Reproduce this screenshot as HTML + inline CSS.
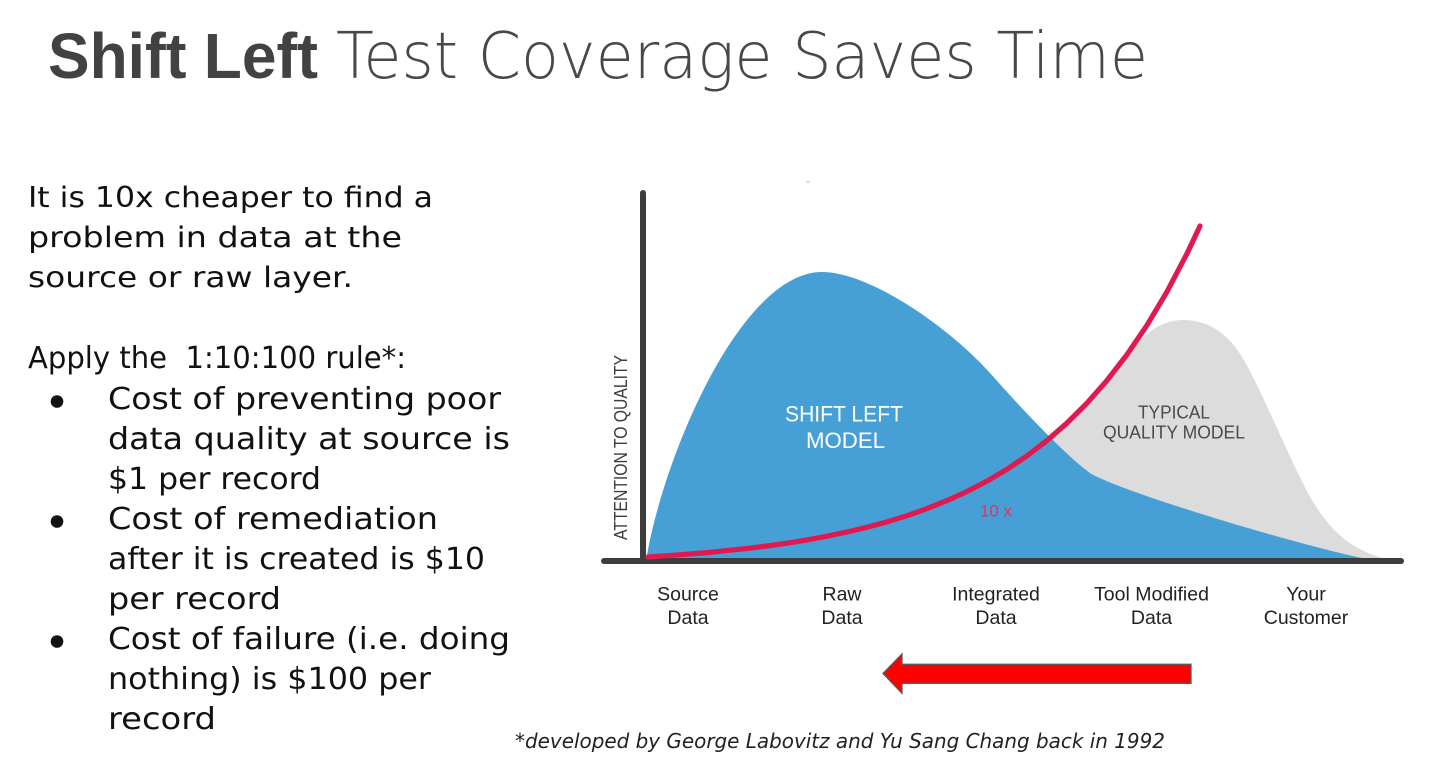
<!DOCTYPE html>
<html>
<head>
<meta charset="utf-8">
<style>
  html, body { margin: 0; padding: 0; background: #ffffff; }
  body { width: 1447px; height: 771px; overflow: hidden; }
  svg { display: block; }
  .poppins { font-family: "DejaVu Sans", "Liberation Sans", sans-serif; }
  .arial { font-family: "Liberation Sans", Arial, sans-serif; }
</style>
</head>
<body>
<svg width="1447" height="771" viewBox="0 0 1447 771" xmlns="http://www.w3.org/2000/svg">
  <rect x="0" y="0" width="1447" height="771" fill="#ffffff"/>

  <!-- Title -->
  <text class="arial" x="48" y="78" font-size="64" font-weight="bold" fill="#404243" textLength="270" lengthAdjust="spacingAndGlyphs">Shift Left</text>
  <text x="336" y="78" font-size="64" fill="#46494b" textLength="812" lengthAdjust="spacingAndGlyphs" style="font-family: 'DejaVu Sans ExtraLight', 'DejaVu Sans', 'Liberation Sans', sans-serif; font-weight: 200;">Test Coverage Saves Time</text>

  <!-- Left text -->
  <g class="poppins" fill="#111111">
    <text x="28" y="207" font-size="28.5" textLength="405" lengthAdjust="spacingAndGlyphs">It is 10x cheaper to find a</text>
    <text x="28" y="247" font-size="28.5" textLength="374" lengthAdjust="spacingAndGlyphs">problem in data at the</text>
    <text x="28" y="287" font-size="28.5" textLength="325" lengthAdjust="spacingAndGlyphs">source or raw layer.</text>
    <text x="28" y="368" font-size="30" textLength="378" lengthAdjust="spacingAndGlyphs" style="white-space:pre">Apply the  1:10:100 rule*:</text>

    <circle cx="57" cy="401.5" r="6.3"/>
    <text x="108" y="409" font-size="30" textLength="393" lengthAdjust="spacingAndGlyphs">Cost of preventing poor</text>
    <text x="108" y="449" font-size="30" textLength="402" lengthAdjust="spacingAndGlyphs">data quality at source is</text>
    <text x="108" y="489" font-size="30" textLength="213" lengthAdjust="spacingAndGlyphs">$1 per record</text>

    <circle cx="57" cy="521.5" r="6.3"/>
    <text x="108" y="529" font-size="30" textLength="330" lengthAdjust="spacingAndGlyphs">Cost of remediation</text>
    <text x="108" y="569" font-size="30" textLength="377" lengthAdjust="spacingAndGlyphs">after it is created is $10</text>
    <text x="108" y="609" font-size="30" textLength="173" lengthAdjust="spacingAndGlyphs">per record</text>

    <circle cx="57" cy="641.5" r="6.3"/>
    <text x="108" y="649" font-size="30" textLength="402" lengthAdjust="spacingAndGlyphs">Cost of failure (i.e. doing</text>
    <text x="108" y="689" font-size="30" textLength="323" lengthAdjust="spacingAndGlyphs">nothing) is $100 per</text>
    <text x="108" y="729" font-size="30" textLength="108" lengthAdjust="spacingAndGlyphs">record</text>
  </g>

  <!-- Chart -->
  <line x1="806" y1="182" x2="810" y2="182" stroke="#bbbbbb" stroke-width="1"/>

  <!-- gray typical quality model -->
  <path d="M 1000,561 L 1000,485 L 1007,469 L 1027,455.8 L 1047,440.5 L 1067,423 L 1087,403.1 L 1107,380.4 L 1127,356
           C 1140,338 1158,320 1183,320
           C 1210,320 1230,335 1245,362
           C 1265,398 1290,460 1310,497
           C 1330,530 1350,552 1395,561 Z" fill="#dcdcdc"/>

  <!-- blue shift left model -->
  <path d="M 646,561
           C 662,460 740,272 822,272
           C 870,272 950,328 990,373
           C 1020,407 1065,455 1090,473
           C 1120,492 1320,552 1378,561 Z" fill="#47a0d5"/>

  <!-- axes -->
  <line x1="643" y1="193" x2="643" y2="561" stroke="#3d3d3d" stroke-width="6" stroke-linecap="round"/>
  <line x1="604" y1="561" x2="1401" y2="561" stroke="#3d3d3d" stroke-width="6" stroke-linecap="round"/>

  <!-- red cost curve -->
  <polyline points="648,557 667,555.7 687,554.2 707,552.6 727,550.6 747,548.5 767,546 787,543.2 807,539.9 827,536.2 847,532 867,527.3 887,521.9 907,515.7 927,508.6 947,500.6 967,491.5 987,481.1 1007,469.3 1027,455.8 1047,440.5 1067,423 1087,403.1 1107,380.4 1127,354.6 1147,325.2 1167,291.7 1187,253.6 1200,226"
        fill="none" stroke="#df1a50" stroke-width="5.2" stroke-linecap="round" stroke-linejoin="round"/>

  <!-- chart labels -->
  <g class="arial">
    <text x="844" y="421.5" font-size="22" fill="#ffffff" text-anchor="middle" textLength="118" lengthAdjust="spacingAndGlyphs">SHIFT LEFT</text>
    <text x="845.5" y="448" font-size="22" fill="#ffffff" text-anchor="middle" textLength="79" lengthAdjust="spacingAndGlyphs">MODEL</text>
    <text x="1174" y="418.5" font-size="18.5" fill="#4a4a4a" text-anchor="middle" textLength="72" lengthAdjust="spacingAndGlyphs">TYPICAL</text>
    <text x="1174" y="438.5" font-size="18.5" fill="#4a4a4a" text-anchor="middle" textLength="142" lengthAdjust="spacingAndGlyphs">QUALITY MODEL</text>
    <text x="980" y="516.5" font-size="16.5" fill="#e6305a" textLength="32" lengthAdjust="spacingAndGlyphs">10 x</text>
    <text transform="translate(627,447.5) rotate(-90)" x="0" y="0" font-size="18.5" fill="#3c3c3c" text-anchor="middle" textLength="185" lengthAdjust="spacingAndGlyphs">ATTENTION TO QUALITY</text>

    <g font-size="19.5" fill="#222222" text-anchor="middle">
      <text x="688" y="600.7">Source</text>
      <text x="688" y="624">Data</text>
      <text x="842" y="600.7">Raw</text>
      <text x="842" y="624">Data</text>
      <text x="996" y="600.7">Integrated</text>
      <text x="996" y="624">Data</text>
      <text x="1151.5" y="600.7">Tool Modified</text>
      <text x="1151.5" y="624">Data</text>
      <text x="1306" y="600.7">Your</text>
      <text x="1306" y="624">Customer</text>
    </g>
  </g>

  <!-- red arrow -->
  <polygon points="883,673.5 902,654 902,664.3 1191,664.3 1191,683.3 902,683.3 902,693.3"
           fill="#ff0000" stroke="#5a5a5a" stroke-width="1.3" stroke-linejoin="miter"/>

  <!-- footnote -->
  <text class="poppins" x="515" y="748" font-size="20" font-style="italic" fill="#222222" textLength="650" lengthAdjust="spacingAndGlyphs">*developed by George Labovitz and Yu Sang Chang back in 1992</text>
</svg>
</body>
</html>
